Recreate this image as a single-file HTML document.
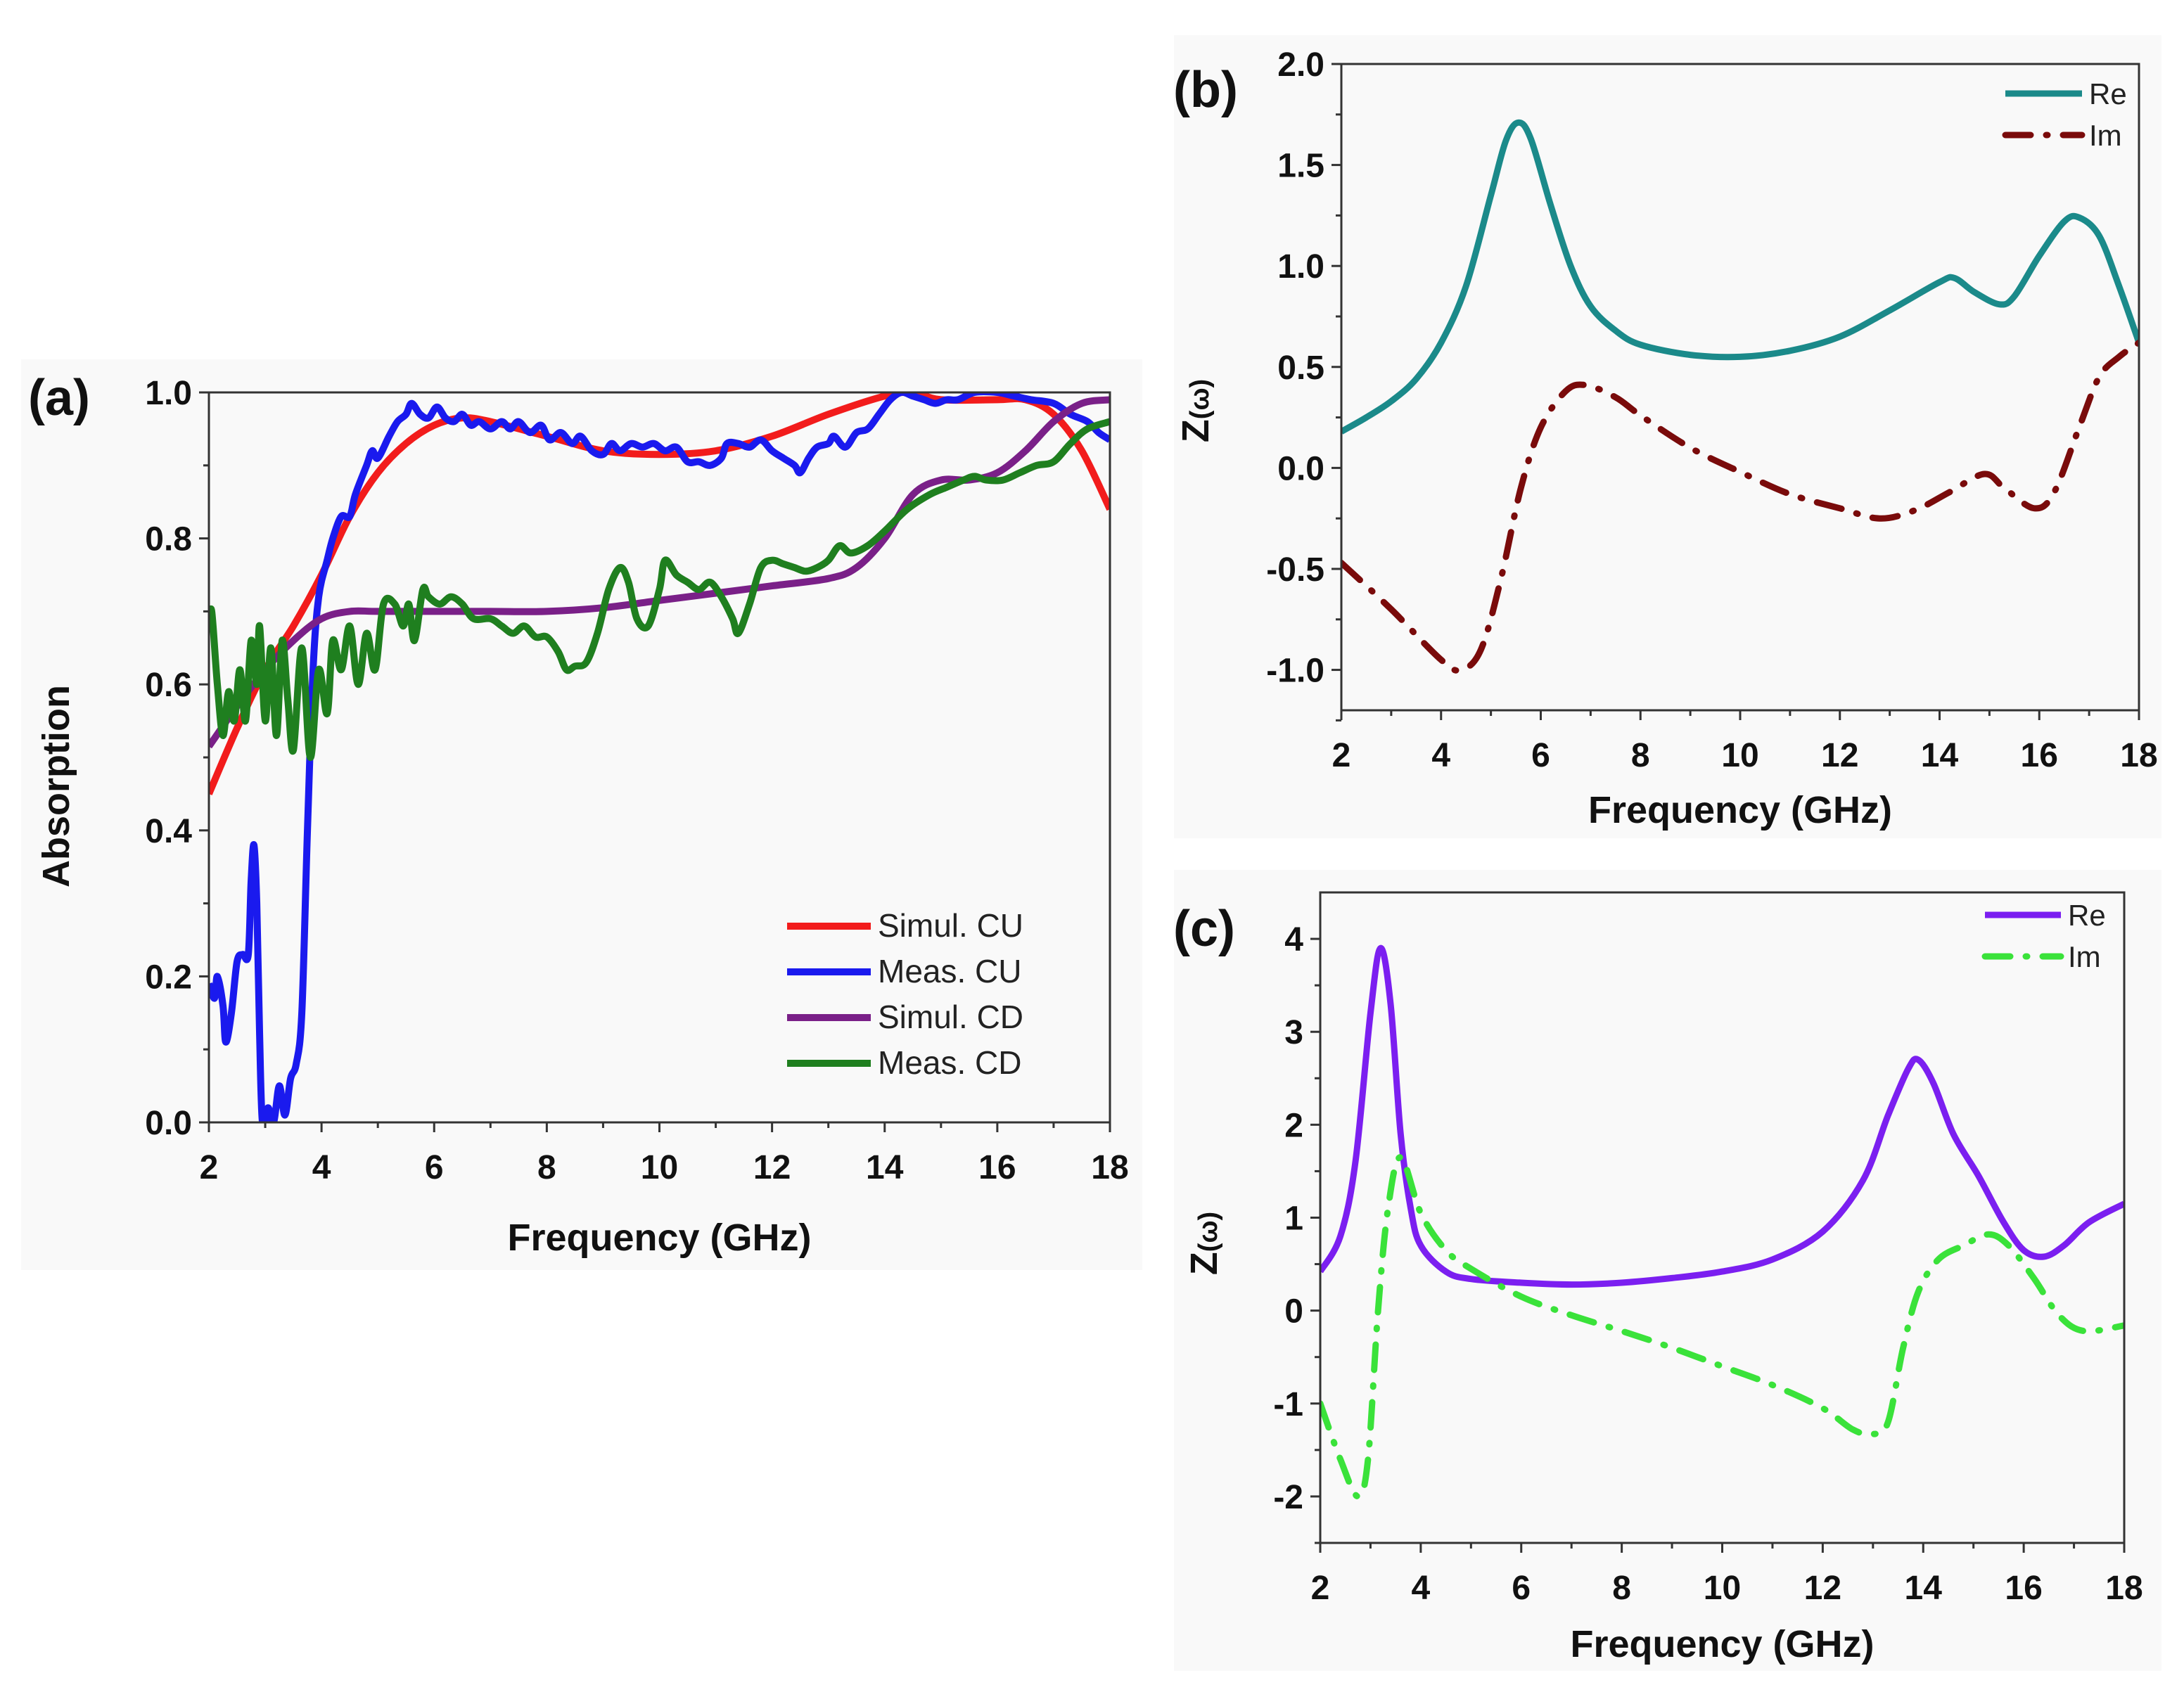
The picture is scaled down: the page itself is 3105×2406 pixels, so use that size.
<!DOCTYPE html>
<html><head><meta charset="utf-8"><style>
html,body{margin:0;padding:0;background:#fff;}
svg{display:block;font-family:"Liberation Sans",Arial,sans-serif;}
</style></head><body>
<svg id="fig" width="3105" height="2406" viewBox="0 0 3105 2406" xmlns="http://www.w3.org/2000/svg">
<rect x="30" y="511" width="1594" height="1295" fill="#f9f9f9"/>
<rect x="1669" y="50" width="1404" height="1142" fill="#f9f9f9"/>
<rect x="1669" y="1237" width="1404" height="1139" fill="#f9f9f9"/>
</svg>
<script>
// ---------- Panel (a) data ----------
const aSimCUx=[2,2.5,3,3.5,4,4.5,5,5.5,6,6.5,7,8,9,10,11,12,13,14,14.5,15,16,16.5,17,17.5,18];
const aSimCUy=[0.45,0.54,0.62,0.68,0.75,0.83,0.89,0.93,0.955,0.965,0.96,0.94,0.92,0.915,0.92,0.94,0.97,0.995,1.0,0.99,0.99,0.99,0.97,0.92,0.84];
const aMeasCUx=[2.0,2.1,2.15,2.25,2.3,2.4,2.5,2.6,2.7,2.75,2.8,2.85,2.9,2.95,3.05,3.15,3.25,3.35,3.45,3.55,3.65,3.75,3.85,3.95,4.1,4.2,4.35,4.5,4.6,4.8,4.9,5.0,5.2,5.35,5.5,5.6,5.75,5.9,6.05,6.2,6.35,6.5,6.65,6.8,7.0,7.2,7.35,7.5,7.7,7.9,8.05,8.25,8.45,8.6,8.8,9.0,9.15,9.3,9.5,9.7,9.9,10.1,10.3,10.5,10.7,10.9,11.1,11.2,11.4,11.6,11.8,12.0,12.2,12.4,12.5,12.65,12.8,13.0,13.1,13.3,13.5,13.7,13.9,14.1,14.3,14.5,14.7,14.9,15.1,15.3,15.6,16.0,16.3,16.6,17.0,17.3,17.6,17.8,18];
const aMeasCUy=[0.19,0.17,0.20,0.16,0.11,0.15,0.22,0.23,0.23,0.33,0.38,0.30,0.12,0.0,0.02,0.0,0.05,0.01,0.06,0.08,0.15,0.40,0.62,0.72,0.77,0.80,0.83,0.83,0.86,0.90,0.92,0.91,0.94,0.96,0.97,0.985,0.97,0.965,0.98,0.965,0.96,0.97,0.955,0.96,0.95,0.96,0.95,0.96,0.945,0.955,0.935,0.945,0.93,0.94,0.92,0.915,0.93,0.92,0.93,0.925,0.93,0.92,0.925,0.905,0.905,0.90,0.91,0.93,0.93,0.925,0.935,0.92,0.91,0.90,0.89,0.91,0.925,0.93,0.94,0.925,0.945,0.95,0.97,0.99,1.0,0.995,0.99,0.985,0.99,0.99,1.0,1.0,0.995,0.99,0.985,0.97,0.96,0.945,0.935];
const aSimCDx=[2,2.5,3,3.5,4,4.5,5,6,7,8,9,10,11,12,13,13.5,14,14.5,15,15.5,16,16.5,17,17.5,18];
const aSimCDy=[0.515,0.57,0.62,0.66,0.69,0.70,0.70,0.70,0.70,0.70,0.705,0.715,0.725,0.735,0.745,0.76,0.80,0.86,0.88,0.88,0.89,0.92,0.96,0.985,0.99];
const aMeasCDx=[2.0,2.05,2.15,2.25,2.35,2.45,2.55,2.65,2.75,2.85,2.9,3.0,3.1,3.2,3.3,3.4,3.5,3.65,3.8,3.95,4.1,4.2,4.35,4.5,4.65,4.8,4.95,5.1,5.3,5.45,5.55,5.65,5.8,5.9,6.1,6.3,6.5,6.7,7.0,7.2,7.4,7.6,7.8,8.0,8.2,8.35,8.5,8.7,8.9,9.1,9.3,9.45,9.6,9.8,10.0,10.1,10.3,10.5,10.7,10.9,11.1,11.3,11.4,11.6,11.8,12.0,12.2,12.4,12.6,12.8,13.0,13.2,13.4,13.7,14.0,14.4,14.8,15.1,15.4,15.6,15.8,16.1,16.4,16.7,17.0,17.3,17.6,18];
const aMeasCDy=[0.68,0.70,0.60,0.53,0.59,0.55,0.62,0.55,0.66,0.60,0.68,0.55,0.65,0.53,0.66,0.58,0.51,0.65,0.50,0.62,0.56,0.66,0.62,0.68,0.60,0.67,0.62,0.71,0.71,0.68,0.71,0.66,0.73,0.72,0.71,0.72,0.71,0.69,0.69,0.68,0.67,0.68,0.665,0.665,0.645,0.62,0.625,0.63,0.67,0.73,0.76,0.74,0.69,0.68,0.73,0.77,0.75,0.74,0.73,0.74,0.72,0.69,0.67,0.71,0.76,0.77,0.765,0.76,0.755,0.76,0.77,0.79,0.78,0.79,0.81,0.84,0.86,0.87,0.88,0.885,0.88,0.88,0.89,0.90,0.905,0.93,0.95,0.96];
const aXTicks=[2,4,6,8,10,12,14,16,18];
const aYTicks=[0,0.2,0.4,0.6,0.8,1.0];
const aYLabels=["0.0","0.2","0.4","0.6","0.8","1.0"];
const aLegend=["Simul. CU","Meas. CU","Simul. CD","Meas. CD"];
// ---------- Panel (b) data ----------
const bReX=[2,2.5,3,3.5,4,4.5,5,5.3,5.55,5.8,6.2,6.6,7,7.5,8,9,10,11,12,13,14,14.3,14.7,15.2,15.5,16,16.5,16.8,17.2,17.6,18];
const bReY=[0.18,0.25,0.33,0.44,0.62,0.9,1.35,1.62,1.71,1.63,1.3,1.0,0.8,0.68,0.61,0.56,0.55,0.58,0.65,0.78,0.92,0.94,0.87,0.81,0.85,1.05,1.22,1.24,1.15,0.9,0.62];
const bImX=[2,3,4,4.4,4.8,5.2,5.6,6.0,6.5,6.9,7.5,8,9,10,11,12,12.8,13.5,14.2,14.9,15.3,15.9,16.3,16.8,17.2,17.6,18];
const bImY=[-0.47,-0.7,-0.95,-1.0,-0.9,-0.55,-0.1,0.2,0.38,0.41,0.35,0.26,0.1,-0.02,-0.13,-0.2,-0.25,-0.21,-0.12,-0.03,-0.1,-0.2,-0.12,0.2,0.45,0.55,0.62];
const bXTicks=[2,4,6,8,10,12,14,16,18];
const bYTicks=[-1,-0.5,0,0.5,1,1.5,2];
const bYLabels=["-1.0","-0.5","0.0","0.5","1.0","1.5","2.0"];
// ---------- Panel (c) data ----------
const cReX=[2,2.4,2.7,3.0,3.2,3.4,3.6,3.8,4,4.5,5,6,7,8,9,10,11,12,12.8,13.3,13.7,13.9,14.2,14.6,15.1,15.6,16.0,16.4,16.8,17.3,18];
const cReY=[0.42,0.8,1.6,3.2,3.9,3.3,1.9,1.1,0.7,0.42,0.34,0.3,0.28,0.3,0.35,0.42,0.55,0.85,1.4,2.1,2.6,2.7,2.45,1.9,1.45,0.95,0.65,0.58,0.7,0.95,1.15];
const cImX=[2,2.4,2.75,2.95,3.15,3.35,3.6,4.0,4.5,5,6,7,8,9,10,11,12,12.6,13,13.3,13.6,13.9,14.3,14.8,15.3,15.7,16.2,16.7,17.2,18];
const cImY=[-1.0,-1.6,-2.0,-1.6,0.0,1.1,1.65,1.05,0.65,0.45,0.15,-0.05,-0.22,-0.4,-0.6,-0.8,-1.05,-1.28,-1.33,-1.2,-0.4,0.2,0.55,0.7,0.82,0.7,0.35,-0.05,-0.22,-0.16];
const cXTicks=[2,4,6,8,10,12,14,16,18];
const cYTicks=[-2,-1,0,1,2,3,4];
const cYLabels=["-2","-1","0","1","2","3","4"];

const NS="http://www.w3.org/2000/svg";
const svg=document.getElementById('fig');
function mk(tag,attrs,parent){const e=document.createElementNS(NS,tag);for(const k in attrs)e.setAttribute(k,attrs[k]);(parent||svg).appendChild(e);return e;}
function smoothPath(px,py){
  let d="M"+px[0].toFixed(1)+","+py[0].toFixed(1);
  for(let i=0;i<px.length-1;i++){
    const x0=px[Math.max(i-1,0)],y0=py[Math.max(i-1,0)],x1=px[i],y1=py[i],x2=px[i+1],y2=py[i+1],x3=px[Math.min(i+2,px.length-1)],y3=py[Math.min(i+2,py.length-1)];
    const c1x=x1+(x2-x0)/6,c1y=y1+(y2-y0)/6,c2x=x2-(x3-x1)/6,c2y=y2-(y3-y1)/6;
    d+=" C"+c1x.toFixed(1)+","+c1y.toFixed(1)+" "+c2x.toFixed(1)+","+c2y.toFixed(1)+" "+x2.toFixed(1)+","+y2.toFixed(1);
  }
  return d;
}
function panel(p){
  const sx=v=>p.L+(v-p.xmin)/(p.xmax-p.xmin)*(p.R-p.L);
  const sy=v=>p.B-(v-p.ymin)/(p.ymax-p.ymin)*(p.B-p.T);
  const g=mk('g',{});
  
  
  const clip=mk('clipPath',{id:p.id+'clip'},g);
  mk('rect',{x:p.L,y:p.T,width:p.R-p.L,height:p.B-p.T},clip);
  p.series.forEach(s=>{
    const path=mk('path',{d:smoothPath(s.x.map(sx),s.y.map(sy)),fill:'none',stroke:s.color,'stroke-width':p.lw,'stroke-linejoin':'round','stroke-linecap':s.dash?'round':'butt','clip-path':'url(#'+p.id+'clip)'},g);
    if(s.dash)path.setAttribute('stroke-dasharray',s.dash);
    
    
  });
  const frame=mk('rect',{x:p.L,y:p.T,width:p.R-p.L,height:p.B-p.T,fill:'none',stroke:'#333','stroke-width':3},g);
  
  
  p.xt.forEach((v,i)=>{
    mk('line',{x1:sx(v),x2:sx(v),y1:p.B,y2:p.B+14,stroke:'#333','stroke-width':3},g);
    if(i<p.xt.length-1){const m=(v+p.xt[i+1])/2;mk('line',{x1:sx(m),x2:sx(m),y1:p.B,y2:p.B+8,stroke:'#333','stroke-width':3},g);}
    const t=mk('text',{x:sx(v),y:p.B+80,'text-anchor':'middle','font-size':48,'font-weight':'bold',fill:'#111'},g);
    t.textContent=String(v);
    
    
  });
  p.yt.forEach((v,i)=>{
    mk('line',{x1:p.L-14,x2:p.L,y1:sy(v),y2:sy(v),stroke:'#333','stroke-width':3},g);
    const m=i<p.yt.length-1?(v+p.yt[i+1])/2:null;
    if(m!==null)mk('line',{x1:p.L-8,x2:p.L,y1:sy(m),y2:sy(m),stroke:'#333','stroke-width':3},g);
    const t=mk('text',{x:p.L-24,y:sy(v)+17,'text-anchor':'end','font-size':48,'font-weight':'bold',fill:'#111'},g);
    t.textContent=p.yl[i];
    
    
  });
  if(p.extraMinor)p.extraMinor.forEach(v=>mk('line',{x1:p.L-8,x2:p.L,y1:sy(v),y2:sy(v),stroke:'#333','stroke-width':3},g));
  const xt=mk('text',{x:(p.L+p.R)/2,y:p.xtitleY,'text-anchor':'middle','font-size':54,'font-weight':'bold',fill:'#111'},g);
  xt.textContent='Frequency (GHz)';
  
  
  const yt=mk('text',{x:0,y:0,'text-anchor':'middle','font-size':54,'font-weight':'bold',fill:'#111',transform:'translate('+p.ytX+','+p.ytY+') rotate(-90)'},g);
  if(p.ytitle==='Z'){yt.innerHTML='Z<tspan font-size="38">(ω)</tspan>';}else yt.textContent=p.ytitle;
  
  
  const pl=mk('text',{x:p.labX,y:p.labY,'font-size':72,'font-weight':'bold',fill:'#111'},g);
  pl.textContent=p.label;
  
  
  p.series.forEach((s,i)=>{
    const y=p.legY+i*p.legDy;
    const ln=mk('line',{x1:p.legX,x2:p.legX+p.legW,y1:y,y2:y,stroke:s.color,'stroke-width':p.lw,'stroke-linecap':s.dash?'round':'butt'},g);
    if(s.dash)ln.setAttribute('stroke-dasharray',s.dash);
    
    
    const t=mk('text',{x:p.legX+p.legW+10,y:y+15,'font-size':p.legFs,fill:'#222'},g);
    t.textContent=s.label;
    
    
  });
}
panel({id:'panel-a',L:297,R:1578,T:558,B:1596,xmin:2,xmax:18,ymin:0,ymax:1,lw:10,
  xt:aXTicks,yt:aYTicks,yl:aYLabels,xtitleY:1778,ytitle:'Absorption',ytX:98,ytY:1118,label:'(a)',labX:40,labY:590,
  legX:1119,legW:119,legY:1317,legDy:65,legFs:46,
  series:[
   {x:aSimCUx,y:aSimCUy,color:'#f21c1c',label:aLegend[0],name:'simul-cu-line'},
   {x:aMeasCUx,y:aMeasCUy,color:'#1a1aee',label:aLegend[1],name:'meas-cu-line'},
   {x:aSimCDx,y:aSimCDy,color:'#7a2088',label:aLegend[2],name:'simul-cd-line'},
   {x:aMeasCDx,y:aMeasCDy,color:'#1f7f1f',label:aLegend[3],name:'meas-cd-line'}]});
panel({id:'panel-b',L:1907,R:3041,T:91,B:1010,xmin:2,xmax:18,ymin:-1.2,ymax:2.0,lw:9,
  xt:bXTicks,yt:bYTicks,yl:bYLabels,extraMinor:[-1.25],xtitleY:1170,ytitle:'Z',ytX:1718,ytY:584,label:'(b)',labX:1668,labY:152,
  legX:2851,legW:109,legY:133,legDy:59,legFs:42,
  series:[
   {x:bReX,y:bReY,color:'#1b8a8a',label:'Re',name:'re-line'},
   {x:bImX,y:bImY,color:'#7a0b0b',label:'Im',dash:'36 22 2 22',name:'im-line'}]});
panel({id:'panel-c',L:1877,R:3020,T:1269,B:2194,xmin:2,xmax:18,ymin:-2.5,ymax:4.5,lw:9,
  xt:cXTicks,yt:cYTicks,yl:cYLabels,extraMinor:[-2.5],xtitleY:2356,ytitle:'Z',ytX:1730,ytY:1768,label:'(c)',labX:1668,labY:1345,
  legX:2822,legW:108,legY:1301,legDy:59,legFs:42,
  series:[
   {x:cReX,y:cReY,color:'#7b1ff0',label:'Re',name:'re-line'},
   {x:cImX,y:cImY,color:'#3ae23a',label:'Im',dash:'36 22 2 22',name:'im-line'}]});
</script>
</body></html>
